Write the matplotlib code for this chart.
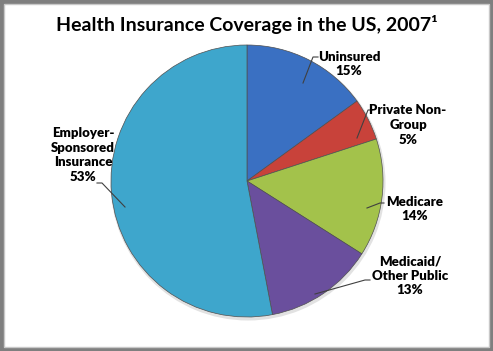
import matplotlib.pyplot as plt
from matplotlib.patches import Rectangle

# Data
categories = ["Uninsured", "Private Non-Group", "Medicare", "Medicaid/Other Public", "Employer-Sponsored Insurance"]
shares = [15, 5, 14, 13, 53]
label_texts = ["Uninsured\n15%", "Private Non-\nGroup\n5%", "Medicare\n14%",
               "Medicaid/\nOther Public\n13%", "Employer-\nSponsored\nInsurance\n53%"]
colors = ["#3A70C2", "#C8423A", "#A3C24B", "#6A4F9D", "#3EA6CC"]

W, H = 493, 351
fig = plt.figure(figsize=(W / 100, H / 100), dpi=100)
ax = fig.add_axes([0, 0, 1, 1])

cx, cy, r = 247, H - 181, 136

# soft shadow
ax.pie([1], radius=r + 1.5, center=(cx + 1, cy - 2), colors=["#e2e2e2"], frame=True)
wedges, _ = ax.pie(shares, colors=colors, startangle=90, counterclock=False,
                   radius=r, center=(cx, cy), frame=True,
                   wedgeprops=dict(edgecolor="#505050", linewidth=0.5))
ax.set_xlim(0, W)
ax.set_ylim(0, H)
ax.set_aspect("equal")
ax.axis("off")

# frame
ax.add_patch(Rectangle((1.5, 1.5), W - 3, H - 3, fill=False, edgecolor="#7f7f7f", lw=3))
ax.add_patch(Rectangle((4, 4), W - 8, H - 8, fill=False, edgecolor="#c8c8c8", lw=1))

# labels (pixel positions, y from top) and leader lines
font = ["Lato", "DejaVu Sans"]
label_pos = [(349, 64), (408, 125), (415, 209), (410, 276), (83, 155)]
leaders = [
    [(303, 83), (313, 57), (318, 57)],
    [(357, 138), (368, 110), (372, 110)],
    [(367, 208), (380, 203), (384, 203)],
    [(315, 294), (365, 280), (370, 280)],
    [(125, 207), (102, 183), (97, 183)],
]
for txt, (lx, ly), pts in zip(label_texts, label_pos, leaders):
    ax.text(lx, H - ly, txt, ha="center", va="center", fontsize=9.5, fontweight="heavy",
            family=font, linespacing=1.25)
    ax.plot([p[0] for p in pts], [H - p[1] for p in pts], color="#404040", lw=0.8)

ax.text(247, H - 25, "Health Insurance Coverage in the US, 2007\u00b9", ha="center", va="center",
        fontsize=14, fontweight="bold", family=font)

fig.savefig("out.png", dpi=100)
